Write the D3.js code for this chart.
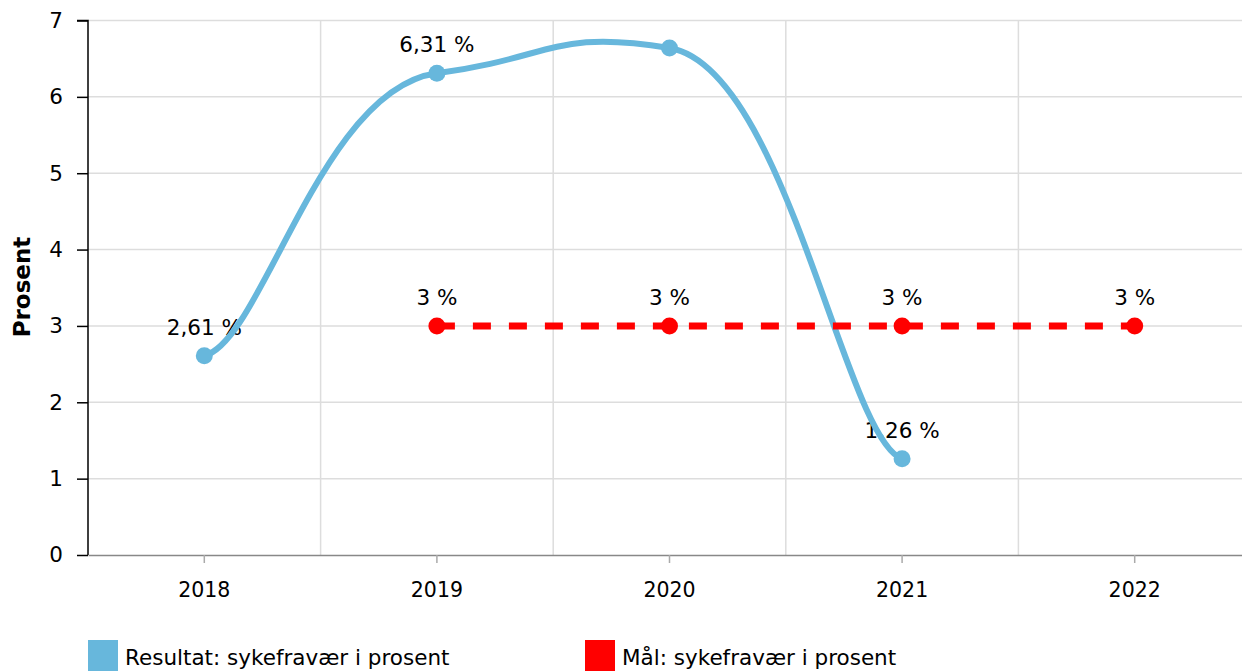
<!DOCTYPE html>
<html><head><meta charset="utf-8">
<script src="https://cdn.jsdelivr.net/npm/d3@7"></script>
<style>body{margin:0;background:#fff}svg{display:block;font-family:Verdana,"DejaVu Sans",sans-serif}</style>
</head><body><svg id="c" width="1242" height="671"></svg>
<script>
const categories = ["2018","2019","2020","2021","2022"];
const resultYears = ["2018","2019","2020","2021"];
const resultValues = [2.61, 6.31, 6.64, 1.26];
const resultLabels = ["2,61 %","6,31 %",null,"1,26 %"];
const targetYears = ["2019","2020","2021","2022"];
const targetValues = [3, 3, 3, 3];
const targetLabels = ["3 %","3 %","3 %","3 %"];
const yTicks = [0,1,2,3,4,5,6,7];
const legendItems = ["Resultat: sykefravær i prosent","Mål: sykefravær i prosent"];

const FONT = 'Verdana,"DejaVu Sans",sans-serif';
const FS = 21.5;
const svg = d3.select("#c");
const x = d3.scaleBand().domain(categories).range([88, 1251]);
const y = d3.scaleLinear().domain([0,7]).range([555, 20.5]);
const cx = d => x(d) + x.bandwidth()/2;

// Bezier smoothing curve (control offsets dx/4, dy/20)
function smoothCurve(context) {
  let pts = [];
  return {
    areaStart(){}, areaEnd(){},
    lineStart(){ pts = []; },
    point(px, py){ pts.push([+px, +py]); },
    lineEnd(){
      const n = pts.length;
      if (!n) return;
      context.moveTo(pts[0][0], pts[0][1]);
      for (let i = 0; i < n - 1; i++) {
        const p0 = pts[Math.max(i-1,0)], p1 = pts[i], p2 = pts[i+1], p3 = pts[Math.min(i+2,n-1)];
        const c1 = [p1[0] + (p2[0]-p0[0])/4, p1[1] + (p2[1]-p0[1])/20];
        const c2 = [p2[0] - (p3[0]-p1[0])/4, p2[1] - (p3[1]-p1[1])/20];
        context.bezierCurveTo(c1[0], c1[1], c2[0], c2[1], p2[0], p2[1]);
      }
    }
  };
}

// grid
svg.append("g").selectAll("line").data(yTicks.slice(1)).join("line")
  .attr("x1",88).attr("x2",1242).attr("y1",d=>y(d)).attr("y2",d=>y(d))
  .attr("stroke","#dddddd").attr("stroke-width",1.5);
svg.append("g").selectAll("line").data(categories.slice(1)).join("line")
  .attr("x1",d=>x(d)).attr("x2",d=>x(d)).attr("y1",y(7)).attr("y2",555)
  .attr("stroke","#dddddd").attr("stroke-width",1.5);

// y axis
const ya = svg.append("g").attr("transform","translate(88,0)")
  .call(d3.axisLeft(y).tickValues(yTicks).tickFormat(d3.format("d")).tickSize(11).tickPadding(14));
ya.attr("font-size",FS).attr("font-family",FONT);
ya.select(".domain").attr("stroke","#000").attr("stroke-width",1.5).attr("d","M-11,"+y(7)+"H0V555");
ya.selectAll(".tick line").attr("stroke","#000").attr("stroke-width",1.5);
ya.selectAll("text").attr("fill","#000");

// x axis
const xa = svg.append("g").attr("transform","translate(0,555)")
  .call(d3.axisBottom(x).tickSize(8).tickPadding(19).tickSizeOuter(0));
xa.attr("font-size",FS-1).attr("font-family",FONT);
xa.select(".domain").attr("stroke","#888").attr("stroke-width",1.5);
xa.selectAll(".tick line").attr("stroke","#aaa").attr("stroke-width",1.5);
xa.selectAll("text").attr("fill","#000");

// y title
svg.append("text").attr("transform","translate(30,287) rotate(-90)")
  .attr("text-anchor","middle").attr("font-size",23).attr("font-weight","bold").text("Prosent");

const rdata = resultYears.map((d,i)=>[d,resultValues[i]]);
const tdata = targetYears.map((d,i)=>[d,targetValues[i]]);

// labels (under lines)
svg.append("g").attr("font-size",FS).selectAll("text").data(rdata.filter((d,i)=>resultLabels[i])).join("text")
  .attr("x",d=>cx(d[0])).attr("y",d=>y(d[1])-21).attr("text-anchor","middle")
  .text(d=>resultLabels[resultYears.indexOf(d[0])]);
svg.append("g").attr("font-size",FS).selectAll("text").data(tdata).join("text")
  .attr("x",d=>cx(d[0])).attr("y",d=>y(d[1])-21).attr("text-anchor","middle")
  .text((d,i)=>targetLabels[i]);

// result line
const line = d3.line().x(d=>cx(d[0])).y(d=>y(d[1])).curve(smoothCurve);
svg.append("path").attr("d",line(rdata)).attr("fill","none").attr("stroke","#67b7dc").attr("stroke-width",6);

// target line
svg.append("path").attr("d",d3.line().x(d=>cx(d[0])).y(d=>y(d[1]))(tdata))
  .attr("fill","none").attr("stroke","#ff0000").attr("stroke-width",7).attr("stroke-dasharray","18,18");

svg.append("g").selectAll("circle").data(rdata).join("circle")
  .attr("cx",d=>cx(d[0])).attr("cy",d=>y(d[1])).attr("r",8.5).attr("fill","#67b7dc");
svg.append("g").selectAll("circle").data(tdata).join("circle")
  .attr("cx",d=>cx(d[0])).attr("cy",d=>y(d[1])).attr("r",8.5).attr("fill","#ff0000");

// legend
const lg = svg.append("g").attr("font-size",FS);
const lcol = ["#67b7dc","#ff0000"], lx = [88, 585];
legendItems.forEach((t,i)=>{
  lg.append("rect").attr("x",lx[i]).attr("y",640).attr("width",30).attr("height",31).attr("fill",lcol[i]);
  lg.append("text").attr("x",lx[i]+37).attr("y",665).text(t);
});
</script></body></html>
